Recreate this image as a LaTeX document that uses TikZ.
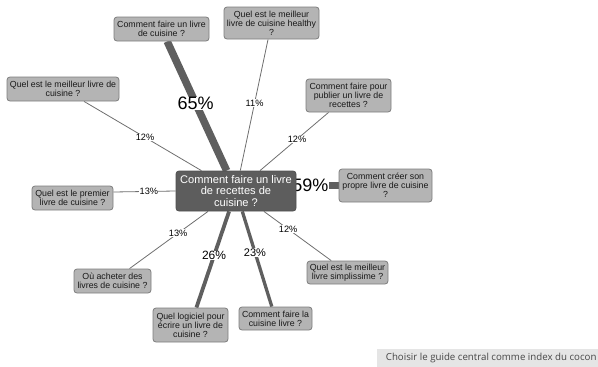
\documentclass[tikz,border=0pt]{standalone}
\usepackage{fontspec}
\setmainfont{Liberation Sans}
\newfontfamily\uifont{Open Sans}
\usetikzlibrary{backgrounds}

\definecolor{leaffill}{RGB}{180,180,180}
\definecolor{leafline}{RGB}{125,125,125}
\definecolor{leaftext}{RGB}{25,25,25}
\definecolor{hubfill}{RGB}{93,93,93}
\definecolor{hubline}{RGB}{80,80,80}
\definecolor{linkcol}{RGB}{95,95,95}
\definecolor{thincol}{RGB}{110,110,110}
\definecolor{btnfill}{RGB}{229,229,229}
\definecolor{btntext}{RGB}{70,70,70}

\begin{document}
\begin{tikzpicture}[x=1pt,y=-1pt,
  leaf/.style={draw=leafline, fill=leaffill, rounded corners=3pt, align=center,
    inner sep=0pt, text=leaftext, line width=0.8pt,
    font=\fontsize{8.8}{9}\selectfont},
  hub/.style={draw=hubline, fill=hubfill, rounded corners=3pt, align=center,
    inner sep=0pt, text=white, line width=0.8pt,
    font=\fontsize{11.1}{11.8}\selectfont},
  heavy/.style={draw=linkcol, line width=#1},
  light/.style={draw=thincol, line width=0.8pt},
  pct/.style={fill=white, inner sep=0.4pt, text=black,
    font=\fontsize{#1}{#1}\selectfont},
  pct/.default=9.2,
  button/.style={fill=btnfill, inner sep=0pt},
  buttonlabel/.style={inner sep=0pt, text=btntext,
    font=\uifont\fontsize{9.7}{11}\selectfont}]

\useasboundingbox (0,0) rectangle (598,367);

% central guide
\node[hub, minimum width=120, minimum height=40] (hub) at (236,191)
  {Comment faire un livre\\de recettes de\\cuisine ?};

% satellite questions
\node[leaf, minimum width=95, minimum height=24] (faire) at (161.5,29)
  {Comment faire un livre\\de cuisine ?};
\node[leaf, minimum width=95, minimum height=32] (healthy) at (271.5,23)
  {Quel est le meilleur\\livre de cuisine healthy\\?};
\node[leaf, minimum width=112, minimum height=24] (meilleur) at (63,89)
  {Quel est le meilleur livre de\\cuisine ?};
\node[leaf, minimum width=85, minimum height=33] (publier) at (348.5,95.5)
  {Comment faire pour\\publier un livre de\\recettes ?};
\node[leaf, minimum width=81, minimum height=24] (premier) at (72.5,198)
  {Quel est le premier\\livre de cuisine ?};
\node[leaf, minimum width=93, minimum height=33] (creer) at (385.5,185.5)
  {Comment créer son\\propre livre de cuisine\\?};
\node[leaf, minimum width=77, minimum height=24] (acheter) at (112.5,281)
  {Où acheter des\\livres de cuisine ?};
\node[leaf, minimum width=75, minimum height=34] (logiciel) at (190.5,325)
  {Quel logiciel pour\\écrire un livre de\\cuisine ?};
\node[leaf, minimum width=73, minimum height=23] (cuisine) at (275.5,318.5)
  {Comment faire la\\cuisine livre ?};
\node[leaf, minimum width=81, minimum height=23] (simple) at (347.5,272.5)
  {Quel est le meilleur\\livre simplissime ?};

% weighted links, kept under the boxes
\begin{scope}[on background layer]
  \draw[heavy=7.5pt] (hub) -- node[pos=0.52, pct=18] {65\%} (faire);
  \draw[light] (hub) -- node[pos=0.515, pct] {11\%} (healthy);
  \draw[light] (hub) -- node[pos=0.54, pct] {12\%} (publier);
  \draw[light] (hub) -- node[pos=0.48, pct] {12\%} (meilleur);
  \draw[light] (hub.west) -- node[pos=0.43, pct] {13\%} ([yshift=6pt]premier.east);
  \draw[heavy=7.5pt] (hub.east |- creer.west) -- node[pos=0.33, pct=18] {59\%} (creer.west);
  \draw[light] (hub) -- node[pos=0.38, pct] {13\%} (acheter);
  \draw[heavy=3.8pt] (hub) -- node[pos=0.46, pct=12] {26\%} (logiciel);
  \draw[heavy=3.3pt] (hub) -- node[pos=0.43, pct=11] {23\%} (cuisine);
  \draw[light] (hub) -- node[pos=0.36, pct] {12\%} (simple);
\end{scope}

% action button
\node[button, anchor=north west, minimum width=221, minimum height=18] (choisir) at (377,349) {};
\node[buttonlabel] (choisirtext) at ([xshift=3.5pt]choisir.center)
  {Choisir le guide central comme index du cocon};

\end{tikzpicture}
\end{document}
